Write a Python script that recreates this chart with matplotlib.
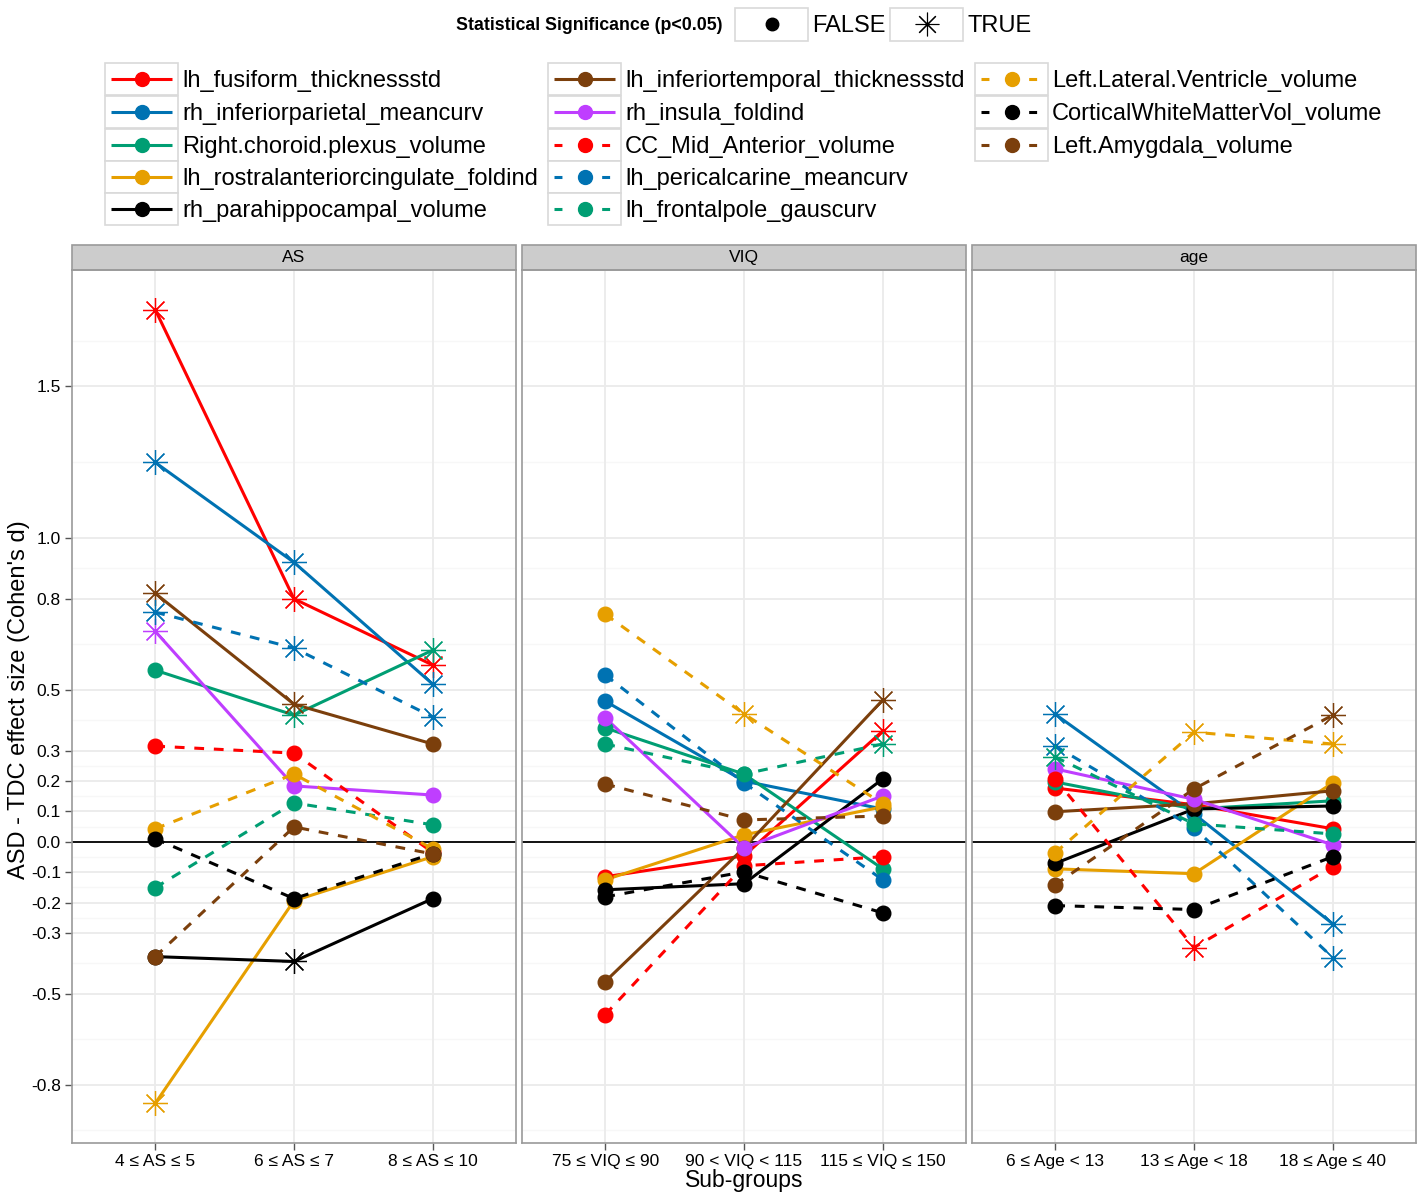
import numpy as np
import matplotlib
matplotlib.use("Agg")
import matplotlib.pyplot as plt
from matplotlib.patches import Rectangle
from matplotlib.lines import Line2D

plt.rcParams['font.family'] = ['Liberation Sans', 'DejaVu Sans']

# ---- data ----
panels = ['AS', 'VIQ', 'age']
subgroup_labels = [
    ['4 ≤ AS ≤ 5', '6 ≤ AS ≤ 7', '8 ≤ AS ≤ 10'],
    ['75 ≤ VIQ ≤ 90', '90 < VIQ < 115', '115 ≤ VIQ ≤ 150'],
    ['6 ≤ Age < 13', '13 ≤ Age < 18', '18 ≤ Age ≤ 40'],
]

features = [
    'lh_fusiform_thicknessstd',
    'rh_inferiorparietal_meancurv',
    'Right.choroid.plexus_volume',
    'lh_rostralanteriorcingulate_foldind',
    'rh_parahippocampal_volume',
    'lh_inferiortemporal_thicknessstd',
    'rh_insula_foldind',
    'CC_Mid_Anterior_volume',
    'lh_pericalcarine_meancurv',
    'lh_frontalpole_gauscurv',
    'Left.Lateral.Ventricle_volume',
    'CorticalWhiteMatterVol_volume',
    'Left.Amygdala_volume',
]
feature_colors = ['#FF0000', '#0072B2', '#009E73', '#E69F00', '#000000',
                  '#7B3F0C', '#BF3EFF', '#FF0000', '#0072B2', '#009E73',
                  '#E69F00', '#000000', '#7B3F0C']
feature_dashed = [False] * 7 + [True] * 6

# effect sizes, one row per feature, one column per sub-group
as_values = [
    [1.752, 0.800, 0.582],
    [1.249, 0.920, 0.519],
    [0.565, 0.417, 0.631],
    [-0.861, -0.194, -0.049],
    [-0.378, -0.394, -0.187],
    [0.818, 0.453, 0.322],
    [0.693, 0.184, 0.154],
    [0.315, 0.292, -0.035],
    [0.756, 0.638, 0.411],
    [-0.151, 0.128, 0.056],
    [0.043, 0.223, -0.023],
    [0.010, -0.187, -0.039],
    [-0.378, 0.049, -0.040],
]
viq_values = [
    [-0.115, -0.046, 0.365],
    [0.463, 0.200, 0.108],
    [0.375, 0.223, -0.089],
    [-0.125, 0.023, 0.115],
    [-0.158, -0.138, 0.207],
    [-0.460, -0.020, 0.467],
    [0.408, -0.020, 0.151],
    [-0.569, -0.079, -0.049],
    [0.549, 0.194, -0.125],
    [0.322, 0.223, 0.322],
    [0.749, 0.421, 0.125],
    [-0.181, -0.099, -0.234],
    [0.190, 0.072, 0.085],
]
age_values = [
    [0.177, 0.122, 0.043],
    [0.420, 0.092, -0.270],
    [0.197, 0.108, 0.135],
    [-0.089, -0.105, 0.194],
    [-0.071, 0.108, 0.118],
    [0.099, 0.125, 0.168],
    [0.240, 0.140, -0.010],
    [0.207, -0.348, -0.082],
    [0.315, 0.046, -0.381],
    [0.279, 0.059, 0.026],
    [-0.036, 0.361, 0.322],
    [-0.210, -0.223, -0.049],
    [-0.141, 0.174, 0.417],
]

# p < 0.05 flags, same layout
as_sig = [
    [1, 1, 1], [1, 1, 1], [0, 1, 1], [1, 0, 0], [0, 1, 0], [1, 1, 0], [1, 0, 0],
    [0, 0, 0], [1, 1, 1], [0, 0, 0], [0, 0, 0], [0, 0, 0], [0, 0, 0],
]
viq_sig = [
    [0, 0, 1], [0, 0, 0], [0, 0, 0], [0, 0, 0], [0, 0, 0], [0, 0, 1], [0, 0, 0],
    [0, 0, 0], [0, 0, 0], [0, 0, 1], [0, 1, 0], [0, 0, 0], [0, 0, 0],
]
age_sig = [
    [0, 0, 0], [1, 0, 1], [0, 0, 0], [0, 0, 0], [0, 0, 0], [0, 0, 0], [0, 0, 0],
    [0, 1, 0], [1, 0, 1], [1, 0, 0], [0, 1, 1], [0, 0, 0], [0, 0, 1],
]

y_breaks = [-0.8, -0.5, -0.3, -0.2, -0.1, 0.0, 0.1, 0.2, 0.3, 0.5, 0.8, 1.0, 1.5]

panel_values = [np.array(as_values), np.array(viq_values), np.array(age_values)]
panel_sig = [np.array(as_sig, bool), np.array(viq_sig, bool), np.array(age_sig, bool)]

# ---- layout (pixel based) ----
W, H = 1421, 1193
fig = plt.figure(figsize=(W / 100, H / 100), dpi=100)


def fig_rect(x0, y0, x1, y1):
    return [x0 / W, 1 - y1 / H, (x1 - x0) / W, (y1 - y0) / H]


panel_left = [72, 522, 972]
panel_w = 444
panel_top, panel_bottom = 270, 1143
strip_h = 25

all_vals = np.concatenate([v.ravel() for v in panel_values])
lo, hi = all_vals.min(), all_vals.max()
pad = 0.05 * (hi - lo)
ylim = (lo - pad, hi + pad)

# ggplot style minor breaks
b = list(y_breaks)
bd = b[1] - b[0]
if ylim[0] < b[0]:
    b = [b[0] - bd] + b
if ylim[1] > b[-1]:
    b = b + [b[-1] + bd]
minor = [(b[i] + b[i + 1]) / 2 for i in range(len(b) - 1)]

star = (8, 2, 0)
border_col = '#9a9a9a'

for p, name in enumerate(panels):
    ax = fig.add_axes(fig_rect(panel_left[p], panel_top,
                               panel_left[p] + panel_w, panel_bottom))
    x = np.arange(3)
    vals = panel_values[p]
    sig = panel_sig[p]

    for m in minor:
        ax.axhline(m, color='#f7f7f7', lw=1.0, zorder=0)
    for yb in y_breaks:
        ax.axhline(yb, color='#ebebeb', lw=1.3, zorder=0.5)
    for xb in x:
        ax.axvline(xb, color='#ebebeb', lw=1.3, zorder=0.5)
    ax.axhline(0, color='black', lw=1.3, zorder=1)

    for i in range(len(features)):
        ls = (0, (3.2, 3.2)) if feature_dashed[i] else '-'
        ax.plot(x, vals[i], color=feature_colors[i], lw=2.2, ls=ls,
                zorder=2 + i * 0.01, solid_capstyle='butt')
    for i in range(len(features)):
        c = feature_colors[i]
        f = ~sig[i]
        t = sig[i]
        ax.plot(x[f], vals[i][f], ls='none', marker='o', ms=10.5, color=c,
                mec=c, zorder=3 + i * 0.01)
        ax.plot(x[t], vals[i][t], ls='none', marker=star, ms=18, color=c,
                mew=0.9, zorder=3 + i * 0.01)

    ax.set_xlim(-0.6, 2.6)
    ax.set_ylim(*ylim)
    ax.set_xticks(x)
    ax.set_xticklabels(subgroup_labels[p], fontsize=12.5)
    ax.set_yticks(y_breaks)
    if p == 0:
        ax.set_yticklabels([f'{v:.1f}' for v in y_breaks], fontsize=12.5)
    else:
        ax.tick_params(axis='y', left=False, labelleft=False)
    ax.tick_params(length=5, width=1, color='#555555', pad=3, labelcolor='black')
    for s in ax.spines.values():
        s.set_color(border_col)
        s.set_linewidth(1.2)

    ax.add_patch(Rectangle((0, 1), 1, strip_h / (panel_bottom - panel_top),
                           transform=ax.transAxes, clip_on=False,
                           facecolor='#cccccc', edgecolor=border_col, lw=1.2))
    ax.text(0.5, 1 + strip_h / 2 / (panel_bottom - panel_top), name,
            transform=ax.transAxes, ha='center', va='center', fontsize=12.5)

fig.text(744 / W, 1 - 1181 / H, 'Sub-groups', ha='center', va='center',
         fontsize=16.5)
fig.text(19 / W, 1 - 700 / H, "ASD - TDC effect size (Cohen's d)", ha='center',
         va='center', rotation=90, fontsize=17)

# ---- legends ----
lg = fig.add_axes([0, 0, 1, 1], zorder=10)
lg.set_xlim(0, W)
lg.set_ylim(H, 0)
lg.axis('off')
lg.patch.set_alpha(0)

key_w, key_h = 73, 32.5
box_col = '#d9d9d9'

# significance legend
lg.text(456, 25, 'Statistical Significance (p<0.05)', fontsize=12.8,
        fontweight='bold', ha='left', va='center')
sig_keys = [(735, 'o', 'FALSE'), (890, star, 'TRUE')]
for kx, mk, lab in sig_keys:
    lg.add_patch(Rectangle((kx, 8), key_w, key_h, facecolor='white',
                           edgecolor=box_col, lw=1.2))
    if mk == 'o':
        lg.add_line(Line2D([kx + key_w / 2], [24], marker='o', ms=9,
                           color='black', ls='none'))
    else:
        lg.add_line(Line2D([kx + key_w / 2], [24], marker=mk, ms=17,
                           color='black', mew=0.8, ls='none'))
    lg.text(kx + key_w + 4, 26, lab, fontsize=17, ha='left', va='center')

# feature legend
col_x = [105, 548, 975]
row_y = [79, 112, 145, 177, 209]
for i, name in enumerate(features):
    col = i // 5
    row = i % 5
    kx = col_x[col]
    ky = row_y[row]
    lg.add_patch(Rectangle((kx, ky - key_h / 2), key_w, key_h,
                           facecolor='white', edgecolor=box_col, lw=1.2))
    ls = (0, (2.6, 5.2)) if feature_dashed[i] else '-'
    lg.add_line(Line2D([kx + 6, kx + key_w - 6], [ky, ky],
                       color=feature_colors[i], lw=2.2, ls=ls,
                       solid_capstyle='butt'))
    lg.add_line(Line2D([kx + key_w / 2], [ky], marker='o', ms=10,
                       color=feature_colors[i], ls='none'))
    lg.text(kx + key_w + 4, ky + 2, name, fontsize=17, ha='left', va='center')

fig.savefig('out.png', dpi=100)
